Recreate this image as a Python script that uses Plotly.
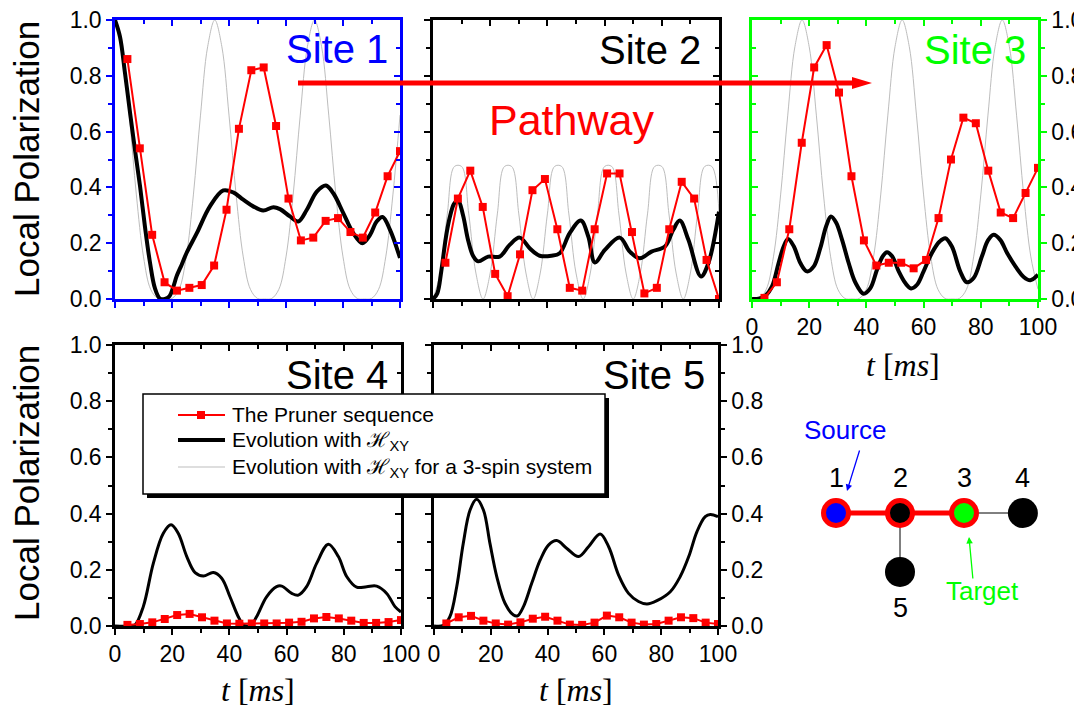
import plotly.graph_objects as go

# the page puts the figure 8 px in from the window's top-left corner,
# so positions below are window pixels and the figure is 8 px smaller
PAGE_MARGIN = 8
W, H = 1082 - PAGE_MARGIN, 710 - PAGE_MARGIN
FONT = "Liberation Sans, Arial, sans-serif"
SERIF = "Liberation Serif, Times New Roman, serif"
RED, BLUE, GREEN, GRAY = "#ff0000", "#0000ff", "#00ff00", "#bdbdbd"

# ---- data -------------------------------------------------------------
# time points of the Pruner sequence (ms)
T_PRUNER = [4.35, 8.7, 13.04, 17.39, 21.74, 26.09, 30.43, 34.78, 39.13, 43.48, 47.83,
            52.17, 56.52, 60.87, 65.22, 69.57, 73.91, 78.26, 82.61, 86.96, 91.3, 95.65, 100.0]

PRUNER_SITE1 = [0.86, 0.54, 0.23, 0.06, 0.03, 0.04, 0.05, 0.12, 0.32, 0.61, 0.82, 0.83,
                0.62, 0.36, 0.21, 0.22, 0.28, 0.29, 0.24, 0.22, 0.31, 0.44, 0.53]
PRUNER_SITE2 = [0.13, 0.36, 0.46, 0.33, 0.09, 0.01, 0.16, 0.39, 0.43, 0.25, 0.04, 0.03,
                0.25, 0.45, 0.45, 0.24, 0.02, 0.04, 0.25, 0.42, 0.36, 0.14, 0.0]
PRUNER_SITE3 = [0.004, 0.06, 0.25, 0.56, 0.83, 0.91, 0.74, 0.44, 0.21, 0.12, 0.13, 0.13,
                0.11, 0.14, 0.29, 0.50, 0.65, 0.63, 0.46, 0.31, 0.29, 0.38, 0.47]
PRUNER_SITE4 = [0.004, 0.007, 0.013, 0.025, 0.039, 0.043, 0.031, 0.019, 0.009, 0.008, 0.009, 0.009,
                0.009, 0.012, 0.015, 0.027, 0.032, 0.027, 0.019, 0.011, 0.011, 0.014, 0.021]
PRUNER_SITE5 = [0.009, 0.031, 0.036, 0.019, 0.009, 0.005, 0.013, 0.026, 0.033, 0.019, 0.005, 0.004,
                0.012, 0.037, 0.031, 0.012, 0.005, 0.007, 0.019, 0.031, 0.028, 0.012, 0.007]

# evolution with H_XY (5-spin system)
T_XY_SITE1 = [0, 1.75, 3.5, 5.3, 7.0, 8.8, 10.5, 12.3, 14.0, 15.8, 17.5, 19.1, 20.5, 21.6, 23.4,
              25.1, 28.7, 33.3, 38.0, 41.5, 45.0, 48.5, 52.0, 55.6, 57.9, 61.4, 64.3, 67.3, 70.8,
              74.0, 76.6, 80.1, 83.6, 86.8, 89.5, 91.8, 93.9, 96.5, 100.0]
XY_SITE1 = [1.0, 0.94, 0.81, 0.666, 0.535, 0.403, 0.26, 0.129, 0.039, 0.001, 0.0, 0.01, 0.045, 0.081,
            0.123, 0.165, 0.236, 0.332, 0.389, 0.382, 0.356, 0.332, 0.317, 0.329, 0.322, 0.296, 0.278,
            0.32, 0.385, 0.407, 0.379, 0.308, 0.236, 0.2, 0.23, 0.278, 0.294, 0.248, 0.147]

T_XY_SITE2 = [0, 1.5, 2.9, 4.5, 5.8, 7.3, 8.75, 10.5, 12.3, 14.0, 15.8, 19.3, 23.3, 26.8, 30.3,
              33.8, 37.3, 41.4, 44.3, 47.8, 51.7, 54.3, 56.6, 60.1, 65.3, 68.8, 72.3, 76.4, 81.1,
              84.0, 86.3, 89.3, 93.7, 96.3, 100]
XY_SITE2 = [0.0, 0.02, 0.1, 0.22, 0.29, 0.34, 0.355, 0.30, 0.21, 0.155, 0.135, 0.152, 0.152, 0.194,
            0.22, 0.182, 0.155, 0.155, 0.164, 0.236, 0.281, 0.224, 0.131, 0.176, 0.22, 0.17, 0.146,
            0.17, 0.188, 0.248, 0.281, 0.212, 0.081, 0.129, 0.313]

T_XY_SITE3 = [0, 2.3, 4.7, 7.0, 9.3, 11.1, 12.6, 14.6, 16.9, 19.2, 21.6, 23.9, 25.9, 27.6, 29.4,
              31.5, 33.8, 36.1, 39.0, 41.4, 43.7, 45.7, 47.2, 49.0, 51.3, 53.6, 55.6, 57.7, 60.0,
              62.9, 65.6, 67.6, 69.9, 72.8, 75.1, 77.5, 80.4, 82.5, 84.5, 86.8, 89.2, 92.1, 95.0,
              97.3, 100]
XY_SITE3 = [0.0, 0.001, 0.012, 0.045, 0.129, 0.189, 0.215, 0.189, 0.129, 0.099, 0.117, 0.183, 0.26,
            0.296, 0.274, 0.212, 0.129, 0.06, 0.019, 0.039, 0.105, 0.153, 0.168, 0.153, 0.099, 0.057,
            0.038, 0.051, 0.099, 0.165, 0.206, 0.218, 0.188, 0.099, 0.06, 0.075, 0.153, 0.21, 0.23,
            0.212, 0.165, 0.117, 0.079, 0.067, 0.087]

T_XY_SITE4 = [0, 5.0, 7.0, 9.9, 13.4, 16.9, 19.6, 22.1, 25.1, 28.0, 30.9, 34.4, 37.3, 40.2, 43.1,
              44.9, 46.2, 47.5, 49.5, 53.0, 56.5, 58.3, 61.8, 64.1, 67.0, 70.5, 74.6, 78.1, 81.0,
              84.5, 88.0, 91.5, 95.0, 97.9, 100]
XY_SITE4 = [0.0, 0.0, 0.004, 0.069, 0.223, 0.33, 0.36, 0.33, 0.247, 0.19, 0.178, 0.19, 0.17, 0.104,
            0.033, 0.004, 0.0, 0.002, 0.033, 0.104, 0.14, 0.142, 0.116, 0.11, 0.14, 0.223, 0.291,
            0.247, 0.176, 0.138, 0.14, 0.142, 0.116, 0.069, 0.05]

T_XY_SITE5 = [0, 3.3, 5.6, 8.0, 10.3, 12.7, 15.0, 17.4, 19.7, 22.1, 25.0, 28.0, 29.4, 31.5, 34.4,
              37.4, 40.3, 43.2, 46.8, 50.9, 54.4, 58.5, 61.5, 65.0, 68.5, 72.0, 75.0, 78.5, 83.2,
              86.7, 89.7, 92.6, 95.5, 97.3, 100]
XY_SITE5 = [0.0, 0.002, 0.033, 0.14, 0.294, 0.413, 0.451, 0.413, 0.294, 0.176, 0.081, 0.039, 0.036,
            0.069, 0.152, 0.235, 0.288, 0.304, 0.276, 0.247, 0.282, 0.327, 0.282, 0.181, 0.116, 0.087,
            0.078, 0.09, 0.122, 0.176, 0.247, 0.336, 0.389, 0.397, 0.389]

# evolution with H_XY for a 3-spin system
T_3SPIN = [0, 2.5, 5, 7.5, 10, 12.5, 15, 17.5, 20, 22.5, 25, 27.5, 30, 32.5, 35, 37.5, 40, 42.5,
           45, 47.5, 50, 52.5, 55, 57.5, 60, 62.5, 65, 67.5, 70, 72.5, 75, 77.5, 80, 82.5, 85,
           87.5, 90, 92.5, 95, 97.5, 100]
THREE_SPIN_SITE1 = [1.0, 0.904, 0.659, 0.373, 0.151, 0.035, 0.002, 0.0, 0.002, 0.035, 0.151, 0.373, 0.659, 0.904,
                    1.0, 0.904, 0.659, 0.373, 0.151, 0.035, 0.002, 0.0, 0.002, 0.035, 0.151, 0.373, 0.659, 0.904,
                    1.0, 0.904, 0.659, 0.373, 0.151, 0.035, 0.002, 0.0, 0.002, 0.035, 0.151, 0.373, 0.659]
THREE_SPIN_SITE2 = [0.0, 0.093, 0.305, 0.475, 0.475, 0.305, 0.093, 0.0, 0.093, 0.305, 0.475, 0.475, 0.305, 0.093,
                    0.0, 0.093, 0.305, 0.475, 0.475, 0.305, 0.093, 0.0, 0.093, 0.305, 0.475, 0.475, 0.305, 0.093,
                    0.0, 0.093, 0.305, 0.475, 0.475, 0.305, 0.093, 0.0, 0.093, 0.305, 0.475, 0.475, 0.305]
THREE_SPIN_SITE3 = [0.0, 0.002, 0.035, 0.151, 0.373, 0.659, 0.904, 1.0, 0.904, 0.659, 0.373, 0.151, 0.035, 0.002,
                    0.0, 0.002, 0.035, 0.151, 0.373, 0.659, 0.904, 1.0, 0.904, 0.659, 0.373, 0.151, 0.035, 0.002,
                    0.0, 0.002, 0.035, 0.151, 0.373, 0.659, 0.904, 1.0, 0.904, 0.659, 0.373, 0.151, 0.035]

Y_TICKS = [0.0, 0.2, 0.4, 0.6, 0.8, 1.0]
X_TICKS = [0, 20, 40, 60, 80, 100]

# spin network sketch
NODE_LABELS = ["1", "2", "3", "4", "5"]
NODE_X = [0, 1, 2, 2.92, 1]
NODE_Y = [0, 0, 0, 0, -0.92]
NODE_FILL = [BLUE, "black", GREEN, "black", "black"]
PATH_NODES = [0, 1, 2]
OTHER_EDGES = [(2, 3), (1, 4)]

# ---- layout helpers ---------------------------------------------------
PANELS = [
    dict(site=1, box=(115, 20, 400, 299), color=BLUE, xlab=False, ylab="left", lt="outside", rt="inside",
         pr=PRUNER_SITE1, tx=T_XY_SITE1, xy=XY_SITE1, ideal=THREE_SPIN_SITE1, bw=4, lab_r=390, lab_y=49),
    dict(site=2, box=(433, 20, 719, 299), color="black", xlab=False, ylab=None, lt="outside", rt="inside",
         pr=PRUNER_SITE2, tx=T_XY_SITE2, xy=XY_SITE2, ideal=THREE_SPIN_SITE2, bw=4, lab_r=703, lab_y=50),
    dict(site=3, box=(752, 20, 1038, 299), color=GREEN, xlab=True, ylab="right", lt="inside", rt="outside",
         pr=PRUNER_SITE3, tx=T_XY_SITE3, xy=XY_SITE3, ideal=THREE_SPIN_SITE3, bw=4, lab_r=1028, lab_y=50),
    dict(site=4, box=(115, 345, 401, 626), color="black", xlab=True, ylab="left", lt="outside", rt="inside",
         pr=PRUNER_SITE4, tx=T_XY_SITE4, xy=XY_SITE4, ideal=None, bw=3, lab_r=390, lab_y=375),
    dict(site=5, box=(434, 345, 718, 626), color="black", xlab=True, ylab="right", lt="outside", rt="outside",
         pr=PRUNER_SITE5, tx=T_XY_SITE5, xy=XY_SITE5, ideal=None, bw=3, lab_r=707, lab_y=375),
]

TICK_FONT = dict(family=FONT, size=23, color="black")
NAME_PRUNER = "The Pruner sequence"
NAME_XY = "Evolution with ℋ<sub>XY</sub>"
NAME_3SPIN = "Evolution with ℋ<sub>XY</sub> for a 3-spin system"


def px(x):
    return (x - PAGE_MARGIN) / W


def py(y):
    return 1 - (y - PAGE_MARGIN) / H


def ax_key(kind, n):
    return f"{kind}axis" if n == 1 else f"{kind}axis{n}"


def ax_ref(kind, n):
    return kind if n == 1 else f"{kind}{n}"


def tick_style(color, direction, minor_dtick):
    return dict(ticks=direction, ticklen=6, tickwidth=1.5, tickcolor=color,
                minor=dict(ticks=direction, dtick=minor_dtick, ticklen=4, tickwidth=1.5,
                           tickcolor=color, showgrid=False))


def text_note(text, x, y, size, color="black", family=FONT, **kw):
    d = dict(text=text, x=px(x), y=py(y), xref="paper", yref="paper", showarrow=False,
             xanchor="center", yanchor="middle", font=dict(family=family, size=size, color=color))
    d.update(kw)
    return d


fig = go.Figure()
axes = {}
annotations = []

for i, p in enumerate(PANELS, start=1):
    left, top, right, bottom = p["box"]
    c = p["color"]
    o = i + 5  # overlay axes for top / right frame
    base = dict(showgrid=False, zeroline=False, showline=True, linecolor=c, linewidth=2.5,
                tickfont=TICK_FONT, fixedrange=True, automargin=False, ticklabeloverflow="allow")
    xbase = dict(base, range=[0, 100], tickvals=X_TICKS)
    ybase = dict(base, range=[0, 1], tickvals=Y_TICKS, tickformat=".1f")
    axes[ax_key("x", i)] = dict(xbase, domain=[px(left), px(right)], anchor=ax_ref("y", i), side="bottom",
                                showticklabels=p["xlab"], **tick_style(c, "outside", 10))
    axes[ax_key("x", o)] = dict(xbase, overlaying=ax_ref("x", i), anchor=ax_ref("y", o), side="top",
                                showticklabels=False, **tick_style(c, "inside", 10))
    axes[ax_key("y", i)] = dict(ybase, domain=[py(bottom), py(top)], anchor=ax_ref("x", i), side="left",
                                showticklabels=p["ylab"] == "left", **tick_style(c, p["lt"], 0.1))
    axes[ax_key("y", o)] = dict(ybase, overlaying=ax_ref("y", i), anchor=ax_ref("x", o), side="right",
                                showticklabels=p["ylab"] == "right", **tick_style(c, p["rt"], 0.1))

    xr, yr = ax_ref("x", i), ax_ref("y", i)
    if p["ideal"] is not None:
        fig.add_trace(go.Scatter(
            x=T_3SPIN, y=p["ideal"], mode="lines", name=NAME_3SPIN,
            line=dict(color=GRAY, width=1, shape="spline"), xaxis=xr, yaxis=yr, hoverinfo="skip",
        ))
    fig.add_trace(go.Scatter(
        x=p["tx"], y=p["xy"], mode="lines", name=NAME_XY,
        line=dict(color="black", width=p["bw"], shape="spline"), xaxis=xr, yaxis=yr, hoverinfo="skip",
    ))
    fig.add_trace(go.Scatter(
        x=T_PRUNER, y=p["pr"], mode="lines+markers", name=NAME_PRUNER,
        line=dict(color=RED, width=2), marker=dict(symbol="square", size=8, color=RED),
        xaxis=xr, yaxis=yr, hoverinfo="skip",
    ))
    # empty trace so the top/right overlay axes get drawn
    fig.add_trace(go.Scatter(x=[None], y=[None], xaxis=ax_ref("x", o), yaxis=ax_ref("y", o),
                             hoverinfo="skip"))

    annotations.append(text_note(f"Site {p['site']}", p["lab_r"], p["lab_y"], 40,
                                 color=c if p["site"] in (1, 3) else "black", xanchor="right"))

# y titles and x titles
for yc in (159, 483):
    annotations.append(text_note("Local Polarization", 26, yc, 35, textangle=-90))
for xc, yc in ((903, 365), (258, 690), (576, 690)):
    annotations.append(text_note("<i>t</i> [<i>ms</i>]", xc, yc, 32, family=SERIF))

annotations.append(text_note("Pathway", 571, 120, 43, color=RED))

# ---- spin network sketch ------------------------------------------------
axes["xaxis11"] = dict(domain=[px(800), px(1060)], range=[-0.5625, 3.5], visible=False, fixedrange=True,
                       anchor="y11")
axes["yaxis11"] = dict(domain=[py(630), py(420)], range=[-1.828, 1.453], visible=False, fixedrange=True,
                       anchor="x11")

ex, ey = [], []
for a, b in OTHER_EDGES:
    ex += [NODE_X[a], NODE_X[b], None]
    ey += [NODE_Y[a], NODE_Y[b], None]
fig.add_trace(go.Scatter(x=ex, y=ey, mode="lines", line=dict(color="black", width=1),
                         xaxis="x11", yaxis="y11", hoverinfo="skip"))
fig.add_trace(go.Scatter(x=[NODE_X[k] for k in PATH_NODES], y=[NODE_Y[k] for k in PATH_NODES],
                         mode="lines", line=dict(color=RED, width=5),
                         xaxis="x11", yaxis="y11", hoverinfo="skip"))
ring = [k in PATH_NODES for k in range(len(NODE_X))]
fig.add_trace(go.Scatter(
    x=NODE_X, y=NODE_Y, mode="markers", xaxis="x11", yaxis="y11", hoverinfo="skip",
    marker=dict(size=[25 if r else 30 for r in ring], color=NODE_FILL, opacity=1,
                line=dict(color=[RED if r else "black" for r in ring], width=[5 if r else 0 for r in ring])),
))
for k, lab in enumerate(NODE_LABELS):
    below = NODE_Y[k] < 0
    annotations.append(dict(text=lab, x=NODE_X[k], y=NODE_Y[k], xref="x11", yref="y11", showarrow=False,
                            xanchor="center", yanchor="middle", yshift=-36 if below else 35,
                            font=dict(family=FONT, size=27, color="black")))

annotations += [
    text_note("Source", 845, 430, 26, color=BLUE),
    dict(text="", x=px(847), y=py(491), ax=13, ay=-42, xref="paper", yref="paper",
         axref="pixel", ayref="pixel", showarrow=True, arrowhead=2, arrowsize=1, arrowwidth=1.3,
         arrowcolor=BLUE),
    text_note("Target", 982, 591, 26, color=GREEN),
    dict(text="", x=px(969), y=py(537), ax=4, ay=43, xref="paper", yref="paper",
         axref="pixel", ayref="pixel", showarrow=True, arrowhead=2, arrowsize=1, arrowwidth=1.3,
         arrowcolor=GREEN),
]

shapes = [
    # pathway arrow
    dict(type="line", xref="paper", yref="paper", x0=px(298), x1=px(856), y0=py(83), y1=py(83),
         line=dict(color=RED, width=5), layer="above"),
    dict(type="path", xref="paper", yref="paper",
         path=f"M {px(852)} {py(77)} L {px(872)} {py(83)} L {px(852)} {py(89)} Z",
         fillcolor=RED, line=dict(color=RED, width=0), layer="above"),
    # legend box with shadow
    dict(type="rect", xref="paper", yref="paper", x0=px(147), x1=px(609), y0=py(498), y1=py(398),
         fillcolor="black", line=dict(width=0), layer="above"),
    dict(type="rect", xref="paper", yref="paper", x0=px(143), x1=px(605), y0=py(494), y1=py(394),
         fillcolor="white", line=dict(color="black", width=1.5), layer="above"),
]

# legend entries (drawn inside the shadowed box)
LEGEND_ROWS = [
    dict(name=NAME_PRUNER, y=415, color=RED, width=2, marker=True, dy=-1),
    dict(name=NAME_XY, y=440, color="black", width=4, marker=False, dy=1),
    dict(name=NAME_3SPIN, y=467, color=GRAY, width=1, marker=False, dy=1),
]
for row in LEGEND_ROWS:
    shapes.append(dict(type="line", xref="paper", yref="paper", x0=px(178), x1=px(225),
                       y0=py(row["y"]), y1=py(row["y"]), line=dict(color=row["color"], width=row["width"]),
                       layer="above"))
    if row["marker"]:
        shapes.append(dict(type="rect", xref="paper", yref="paper", x0=px(197), x1=px(205),
                           y0=py(row["y"] + 4), y1=py(row["y"] - 4), fillcolor=row["color"],
                           line=dict(width=0), layer="above"))
    annotations.append(text_note(row["name"], 230, row["y"] + row["dy"], 21, xanchor="left"))

fig.update_layout(
    width=W, height=H,
    margin=dict(l=0, r=0, t=0, b=0),
    paper_bgcolor="white", plot_bgcolor="white",
    showlegend=False,
    annotations=annotations,
    shapes=shapes,
    **axes,
)

fig.write_html("out.html")
